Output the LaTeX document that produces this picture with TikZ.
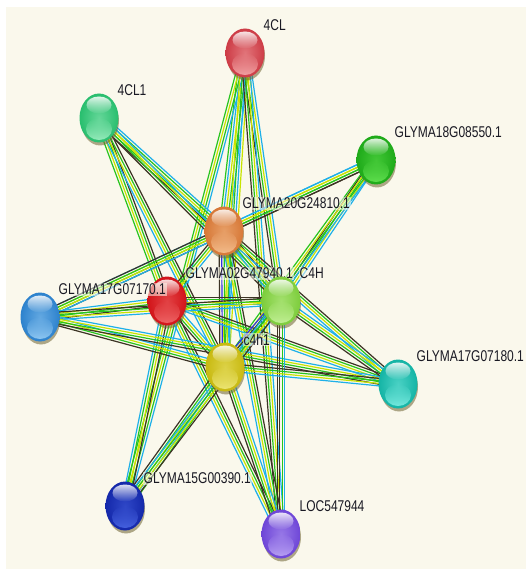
\documentclass[tikz,border=0pt]{standalone}
\usepackage{fontspec}
\setmainfont{Liberation Sans}
\usepackage{graphicx}
\usetikzlibrary{calc,fadings,shapes.geometric}
\pgfdeclarelayer{bgl}
\pgfdeclarelayer{edges}
\pgfsetlayers{bgl,edges,main}

\definecolor{bgc}{RGB}{250,248,236}
\definecolor{ec}{RGB}{30,176,232}
\definecolor{ey}{RGB}{200,228,0}
\definecolor{eg}{RGB}{40,196,30}
\definecolor{ek}{RGB}{60,52,36}
\definecolor{eb}{RGB}{50,50,225}
\definecolor{shc}{RGB}{110,100,50}
\definecolor{txt}{RGB}{25,25,35}

\definecolor{aD}{RGB}{205,60,70}\definecolor{aL}{RGB}{250,185,185}
\definecolor{bD}{RGB}{40,190,110}\definecolor{bL}{RGB}{175,245,205}
\definecolor{cD}{RGB}{30,170,25}\definecolor{cL}{RGB}{110,235,90}
\definecolor{dD}{RGB}{215,120,55}\definecolor{dL}{RGB}{250,205,160}
\definecolor{eD}{RGB}{210,20,25}\definecolor{eL}{RGB}{245,120,120}
\definecolor{fD}{RGB}{45,130,205}\definecolor{fL}{RGB}{165,215,250}
\definecolor{gD}{RGB}{125,205,60}\definecolor{gL}{RGB}{210,248,170}
\definecolor{hD}{RGB}{200,185,15}\definecolor{hL}{RGB}{245,240,140}
\definecolor{iD}{RGB}{20,180,165}\definecolor{iL}{RGB}{140,245,235}
\definecolor{jD}{RGB}{20,40,170}\definecolor{jL}{RGB}{80,110,235}
\definecolor{kD}{RGB}{110,70,215}\definecolor{kL}{RGB}{200,180,250}

\tikzfading[name=fadedown, top color=transparent!0, bottom color=transparent!100]
\tikzfading[name=fadeup, top color=transparent!100, bottom color=transparent!0]

\tikzset{
  edge/.style={line width=1.2pt},
  ballnode/.style={ellipse, minimum width=39pt, minimum height=49pt, inner sep=0pt},
  lbl/.style={anchor=west, inner sep=1pt, text=txt, fill=bgc, fill opacity=0.55, text opacity=1, font=\fontsize{12}{12}\selectfont},
}

% name, x, y, base colour, light colour, label
\newcommand{\ball}[6]{%
  \fill[shc, opacity=0.55] (#2+1,#3+3) ellipse (19 and 24.5);
  \node[ballnode, inner color=#4!55!#5, outer color=#4] (#1) at (#2,#3) {};
  \fill[#5, path fading=fadeup, fill opacity=0.8] (#2,#3+11) ellipse (13 and 11);
  \fill[white, path fading=fadedown, fill opacity=0.85] (#2,#3-13) ellipse (12.5 and 8.5);
  \node[lbl] (#1-l) at (#2+17.5,#3-27.5) {\scalebox{1}[1.3]{#6}};
}

\newcommand{\bundle}[3]{%
  \foreach \cc [count=\ii] in {#3} {\xdef\nlines{\ii}}%
  \foreach \cc [count=\ii] in {#3} {%
    \pgfmathsetmacro\off{(\ii-(\nlines+1)/2)*2.5}%
    \draw[\cc, edge] ($(#1.center)!\off pt!90:(#2.center)$) -- ($(#2.center)!\off pt!-90:(#1.center)$);
  }%
}

\begin{document}
\begin{tikzpicture}[x=1pt,y=-1pt]
\useasboundingbox (0,0) rectangle (526,569);
\begin{pgfonlayer}{bgl}
  \fill[white] (0,0) rectangle (526,569);
  \fill[bgc] (6,7) rectangle (526,569);
\end{pgfonlayer}

\ball{nA}{245}{53}{aD}{aL}{4CL}
\ball{nB}{99}{118}{bD}{bL}{4CL1}
\ball{nC}{376}{160}{cD}{cL}{GLYMA18G08550.1}
\ball{nD}{224}{231}{dD}{dL}{GLYMA20G24810.1}
\ball{nE}{167}{301}{eD}{eL}{GLYMA02G47940.1}
\ball{nF}{40}{317}{fD}{fL}{GLYMA17G07170.1}
\ball{nG}{281}{301}{gD}{gL}{C4H}
\ball{nH}{225}{367}{hD}{hL}{c4h1}
\ball{nI}{398}{384}{iD}{iL}{GLYMA17G07180.1}
\ball{nJ}{125}{506}{jD}{jL}{GLYMA15G00390.1}
\ball{nK}{281}{534}{kD}{kL}{LOC547944}

\begin{pgfonlayer}{edges}
  \bundle{nA}{nD}{eg,ec,ey,eg,ec}
  \bundle{nA}{nJ}{eg,ey,eg,ec}
  \bundle{nA}{nG}{ek,eg,ey,ec}
  \bundle{nA}{nH}{ey,eg,ec,ey}
  \bundle{nA}{nK}{ek,eg,ey,ec}
  \bundle{nB}{nD}{ek,eg,ey,eg,ec}
  \bundle{nB}{nG}{ek,eg,ey,ec}
  \bundle{nB}{nE}{eg,ey,eg,ek}
  \bundle{nB}{nH}{ec,ey,eg,ek}
  \bundle{nC}{nD}{ec,ey,eg,ek}
  \bundle{nC}{nF}{ec,ey,eg,ek}
  \bundle{nC}{nG}{ek,eg,ey,ec}
  \bundle{nC}{nH}{eg,ey,eg,ec}
  \bundle{nD}{nE}{ek,eg,ey,ec}
  \bundle{nD}{nF}{ek,eg,ey,ec}
  \bundle{nD}{nG}{ec,eg,ey,ek}
  \bundle{nD}{nH}{ek,eb,eg,ey,ec}
  \bundle{nD}{nI}{ec,ey,eg,ek}
  \bundle{nD}{nK}{ec,ey,eg,ek}
  \bundle{nE}{nF}{ec,ey,eg,ek}
  \bundle{nE}{nG}{ec,ey,eg,ek}
  \bundle{nE}{nH}{ek,eg,ey,ec}
  \bundle{nE}{nI}{ec,ey,eg,ek}
  \bundle{nE}{nJ}{ec,eg,ey,ek}
  \bundle{nE}{nK}{ec,ey,eg,ek}
  \bundle{nF}{nG}{ec,ey,eg,ek}
  \bundle{nF}{nH}{ek,eg,ey,ec}
  \bundle{nF}{nI}{ek,eg,ey,ec}
  \bundle{nG}{nH}{eb,ek,eg,ey,ec}
  \bundle{nG}{nI}{ek,eg,ey,ec}
  \bundle{nG}{nK}{ek,ek,eg,ec}
  \bundle{nH}{nI}{ec,ey,eg,ek}
  \bundle{nH}{nJ}{ek,eg,ey,ec,eg}
  \bundle{nG}{nJ}{ec,eg,ey,ek}
  \bundle{nH}{nK}{ek,eg,ey,ec}
\end{pgfonlayer}
\end{tikzpicture}
\end{document}
